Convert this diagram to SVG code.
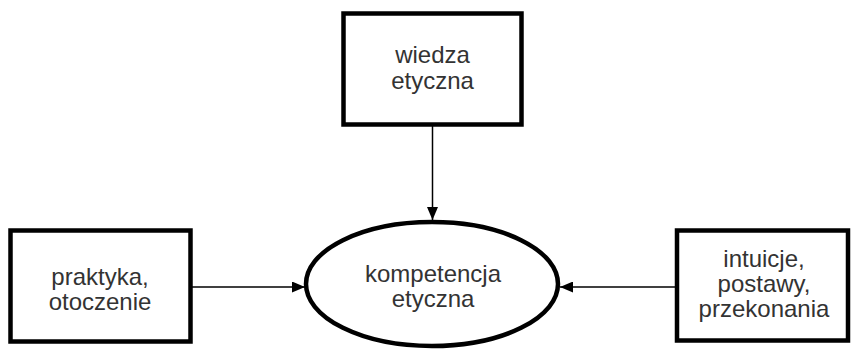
<svg xmlns="http://www.w3.org/2000/svg" width="851" height="350" viewBox="0 0 851 350">
<defs>
<marker id="arr" viewBox="0 0 13 11" refX="13" refY="5.5" markerWidth="13" markerHeight="11" markerUnits="userSpaceOnUse" orient="auto">
<path d="M0,0 L13,5.5 L0,11 Z" fill="#000"/>
</marker>
</defs>
<style>
.box{fill:#fff;stroke:#000;stroke-width:4.5}
.lbl{font-family:"Liberation Sans",Arial,sans-serif;font-size:24px;fill:#333;text-anchor:middle}
.con{stroke:#000;stroke-width:1.5;fill:none;marker-end:url(#arr)}
</style>
<rect width="851" height="350" fill="#fff"/>
<g id="connectors">
<line class="con" x1="432.5" y1="125" x2="432.5" y2="220"/>
<line class="con" x1="192" y1="287" x2="305" y2="287"/>
<line class="con" x1="675" y1="287" x2="560" y2="287"/>
</g>
<g id="wiedza">
<rect class="box" x="343.5" y="13.5" width="178" height="111"/>
<text class="lbl" x="432.5" y="63">wiedza</text>
<text class="lbl" x="432.5" y="89">etyczna</text>
</g>
<g id="praktyka">
<rect class="box" x="10.5" y="230.5" width="180" height="111"/>
<text class="lbl" x="100" y="285">praktyka,</text>
<text class="lbl" x="100" y="310">otoczenie</text>
</g>
<g id="kompetencja">
<ellipse class="box" cx="432" cy="284" rx="126" ry="62"/>
<text class="lbl" x="433" y="282">kompetencja</text>
<text class="lbl" x="433" y="307">etyczna</text>
</g>
<g id="intuicje">
<rect class="box" x="677" y="230.5" width="171" height="110"/>
<text class="lbl" x="764" y="267">intuicje,</text>
<text class="lbl" x="764" y="292">postawy,</text>
<text class="lbl" x="764" y="317">przekonania</text>
</g>
</svg>
